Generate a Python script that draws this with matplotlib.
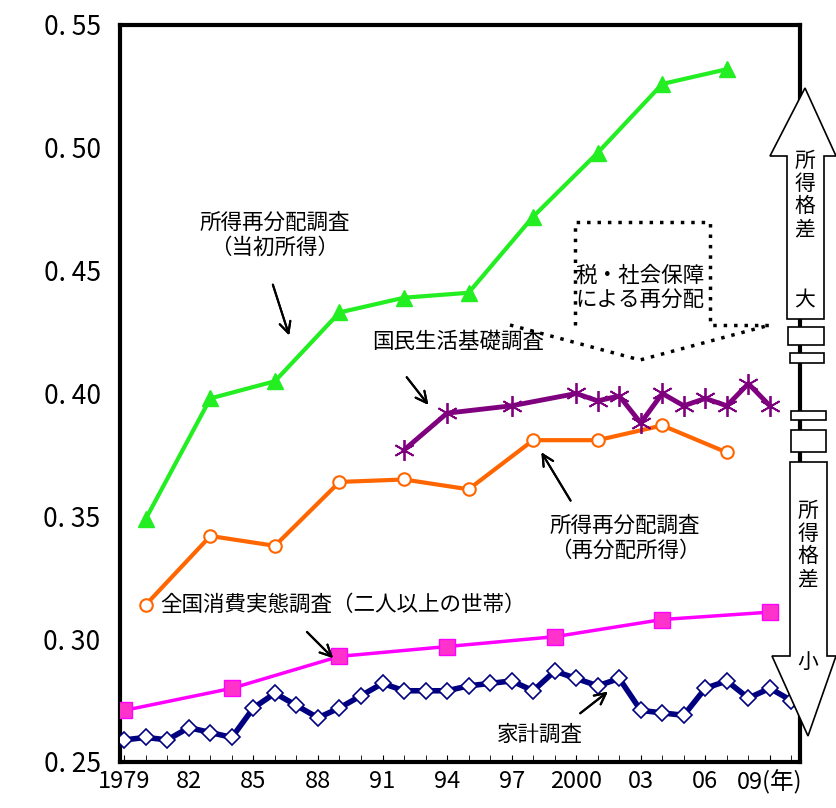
import matplotlib.pyplot as plt
import numpy as np
from matplotlib.patches import Polygon, Rectangle
from matplotlib.lines import Line2D

plt.rcParams['font.family'] = ['Noto Sans CJK JP', 'DejaVu Sans']

W, H = 836, 808

# 所得再分配調査（当初所得）
init_years = [1980, 1983, 1986, 1989, 1992, 1995, 1998, 2001, 2004, 2007]
init_gini = [0.349, 0.398, 0.405, 0.433, 0.439, 0.441, 0.472, 0.498, 0.526, 0.532]
# 所得再分配調査（再分配所得）
redis_gini = [0.314, 0.342, 0.338, 0.364, 0.365, 0.361, 0.381, 0.381, 0.387, 0.376]
# 国民生活基礎調査
kokumin_years = [1992, 1994, 1997, 2000, 2001, 2002, 2003, 2004, 2005, 2006, 2007, 2008, 2009]
kokumin_gini = [0.377, 0.392, 0.395, 0.400, 0.397, 0.399, 0.388, 0.400, 0.395, 0.398, 0.395, 0.404, 0.395]
# 全国消費実態調査
zenkoku_years = [1979, 1984, 1989, 1994, 1999, 2004, 2009]
zenkoku_gini = [0.271, 0.280, 0.293, 0.297, 0.301, 0.308, 0.311]
# 家計調査
kakei_years = list(range(1979, 2011))
kakei_gini = [0.259, 0.260, 0.259, 0.264, 0.262, 0.260, 0.272, 0.278, 0.273, 0.268,
              0.272, 0.277, 0.282, 0.279, 0.279, 0.279, 0.281, 0.282, 0.283, 0.279,
              0.287, 0.284, 0.281, 0.284, 0.271, 0.270, 0.269, 0.280, 0.283, 0.276,
              0.280, 0.275]

xticks = [1979, 1982, 1985, 1988, 1991, 1994, 1997, 2000, 2003, 2006, 2009]
xlabels = ['1979', '82', '85', '88', '91', '94', '97', '2000', '03', '06', '09(年)']
yticks = [0.25, 0.30, 0.35, 0.40, 0.45, 0.50, 0.55]


def px(x, y):
    return (x / W, 1 - y / H)


fig = plt.figure(figsize=(8.36, 8.08), dpi=100)
ax = fig.add_axes([120 / W, 46 / H, 680 / W, 737 / H])

ax.plot(init_years, init_gini, c='#22ee22', lw=3, marker='^', ms=12, zorder=3)
ax.plot(init_years, redis_gini, c='#ff6600', lw=3, marker='o', ms=9, mfc='white', mew=1.5, zorder=3)
ax.plot(kokumin_years, kokumin_gini, c='#7f007f', lw=3.5, marker=(6, 2, 0), ms=15, mew=1.3, zorder=3)
ax.plot(zenkoku_years, zenkoku_gini, c='#ff00ff', lw=2.5, marker='s', ms=11, mfc='#ff33cc', zorder=3)
ax.plot(kakei_years, kakei_gini, c='#000080', lw=4, marker='D', ms=8, mfc='white', mew=1.2, zorder=3)

ax.set_xlim(1978.8, 2010.4)
ax.set_ylim(0.25, 0.55)
ax.set_xticks(xticks)
ax.set_xticklabels(xlabels, fontsize=17)
ax.set_yticks(yticks)
ax.set_yticklabels(['0. %02d' % round(v * 100) for v in yticks], fontsize=19)
ax.set_xticks(range(1979, 2011), minor=True)
ax.tick_params(axis='x', which='both', direction='in', length=5, pad=6)
ax.tick_params(axis='y', length=0, pad=14)
for s in ax.spines.values():
    s.set_linewidth(3)

# labels and arrows
fs = 15.5
tf = fig.transFigure
fig.text(*px(275, 235), '所得再分配調査\n（当初所得）', ha='center', va='center', fontsize=fs)
fig.text(*px(458, 342), '国民生活基礎調査', ha='center', va='center', fontsize=fs)
fig.text(*px(625, 538), '所得再分配調査\n（再分配所得）', ha='center', va='center', fontsize=fs)
fig.text(*px(160, 605), '全国消費実態調査（二人以上の世帯）', ha='left', va='center', fontsize=fs)
fig.text(*px(540, 735), '家計調査', ha='center', va='center', fontsize=fs)
fig.text(*px(640, 288), '税・社会保障\nによる再分配', ha='center', va='center', fontsize=fs,
         linespacing=1.1, bbox=dict(fc='white', ec='none', pad=1))

arrows = [((272, 282), (290, 338)), ((405, 375), (430, 407)), ((572, 503), (540, 450)),
          ((305, 630), (335, 660)), ((578, 715), (610, 690))]
for (x0, y0), (x1, y1) in arrows:
    fig.add_artist(plt.annotate('', xy=px(x1, y1), xytext=px(x0, y0), xycoords=tf, textcoords=tf,
                                arrowprops=dict(arrowstyle='->', lw=1.5, color='black', mutation_scale=20)))

# dotted bracket
bx = [575, 575, 710, 710, 770]
by = [325, 222, 222, 325, 325]
fig.add_artist(Line2D([px(x, 0)[0] for x in bx], [px(0, y)[1] for y in by], transform=tf,
                      ls=(0, (1, 2)), lw=2.5, c='black', zorder=5))
vx = [510, 640, 770]
vy = [325, 360, 325]
fig.add_artist(Line2D([px(x, 0)[0] for x in vx], [px(0, y)[1] for y in vy], transform=tf,
                      ls=(0, (1, 2)), lw=2.5, c='black', zorder=5))

# big arrows at right
up = [(787, 319), (787, 156), (770, 156), (805, 88), (836, 156), (824, 156), (824, 319)]
down = [(790, 462), (790, 656), (772, 656), (808, 736), (836, 656), (827, 656), (827, 462)]
for poly in (up, down):
    fig.add_artist(Polygon([px(x, y) for x, y in poly], closed=True, transform=tf,
                           fc='white', ec='black', lw=1.2, zorder=6))
for (x0, y0, x1, y1) in [(788, 327, 824, 345), (790, 353, 824, 363), (791, 411, 826, 420), (791, 430, 826, 452)]:
    fig.add_artist(Rectangle(px(x0, y1), (x1 - x0) / W, (y1 - y0) / H, transform=tf,
                             fc='white', ec='black', lw=1.2, zorder=6))
fig.text(*px(805, 195), '所\n得\n格\n差', ha='center', va='center', fontsize=15, linespacing=1.05, zorder=7)
fig.text(*px(805, 300), '大', ha='center', va='center', fontsize=15, zorder=7)
fig.text(*px(808, 545), '所\n得\n格\n差', ha='center', va='center', fontsize=15, linespacing=1.05, zorder=7)
fig.text(*px(808, 662), '小', ha='center', va='center', fontsize=15, zorder=7)

fig.savefig('out.png', dpi=100)
